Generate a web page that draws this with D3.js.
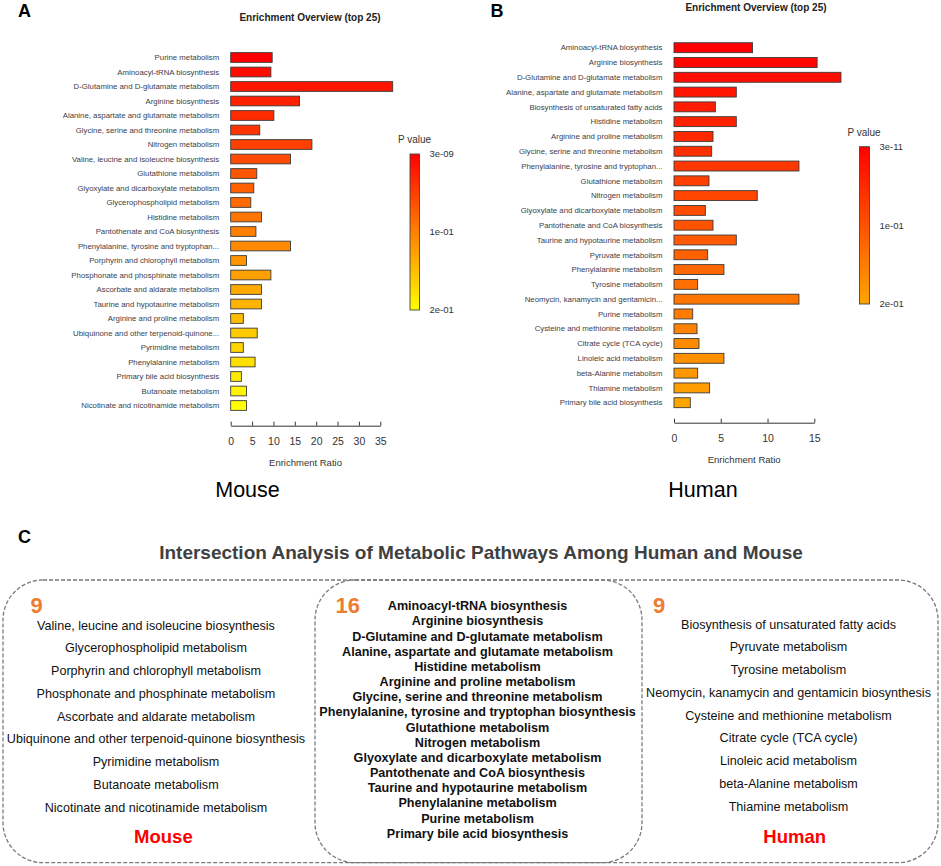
<!DOCTYPE html>
<html>
<head>
<meta charset="utf-8">
<script src="https://d3js.org/d3.v7.min.js"></script>
<style>
  body { margin: 0; background: #fff; }
  svg text { font-family: "Liberation Sans", Arial, sans-serif; }
</style>
</head>
<body>
<svg id="fig" width="941" height="866"></svg>
<script>
// ---- panel A : mouse, top 25 pathways (sorted by p value) ----
var mouseNames = [
  "Purine metabolism", "Aminoacyl-tRNA biosynthesis", "D-Glutamine and D-glutamate metabolism",
  "Arginine biosynthesis", "Alanine, aspartate and glutamate metabolism",
  "Glycine, serine and threonine metabolism", "Nitrogen metabolism",
  "Valine, leucine and isoleucine biosynthesis", "Glutathione metabolism",
  "Glyoxylate and dicarboxylate metabolism", "Glycerophospholipid metabolism",
  "Histidine metabolism", "Pantothenate and CoA biosynthesis",
  "Phenylalanine, tyrosine and tryptophan...", "Porphyrin and chlorophyll metabolism",
  "Phosphonate and phosphinate metabolism", "Ascorbate and aldarate metabolism",
  "Taurine and hypotaurine metabolism", "Arginine and proline metabolism",
  "Ubiquinone and other terpenoid-quinone...", "Pyrimidine metabolism",
  "Phenylalanine metabolism", "Primary bile acid biosynthesis",
  "Butanoate metabolism", "Nicotinate and nicotinamide metabolism"
];
var mouseRatio = [9.7, 9.4, 37.9, 16.1, 10.1, 6.8, 19.0, 14.0, 6.1, 5.4, 4.7, 7.2, 5.9,
                  14.0, 3.7, 9.4, 7.2, 7.2, 2.95, 6.2, 2.95, 5.7, 2.5, 3.7, 3.7];
var mouseTicks = [0, 5, 10, 15, 20, 25, 30, 35];
var mousePLabels = ["3e-09", "1e-01", "2e-01"];

// ---- panel B : human ----
var humanNames = [
  "Aminoacyl-tRNA biosynthesis", "Arginine biosynthesis", "D-Glutamine and D-glutamate metabolism",
  "Alanine, aspartate and glutamate metabolism", "Biosynthesis of unsaturated fatty acids",
  "Histidine metabolism", "Arginine and proline metabolism",
  "Glycine, serine and threonine metabolism", "Phenylalanine, tyrosine and tryptophan...",
  "Glutathione metabolism", "Nitrogen metabolism", "Glyoxylate and dicarboxylate metabolism",
  "Pantothenate and CoA biosynthesis", "Taurine and hypotaurine metabolism",
  "Pyruvate metabolism", "Phenylalanine metabolism", "Tyrosine metabolism",
  "Neomycin, kanamycin and gentamicin...", "Purine metabolism",
  "Cysteine and methionine metabolism", "Citrate cycle (TCA cycle)",
  "Linoleic acid metabolism", "beta-Alanine metabolism", "Thiamine metabolism",
  "Primary bile acid biosynthesis"
];
var humanRatio = [8.4, 15.3, 17.85, 6.66, 4.42, 6.66, 4.17, 4.03, 13.36, 3.74, 8.9, 3.35, 4.17,
                  6.66, 3.6, 5.34, 2.53, 13.36, 2.0, 2.46, 2.67, 5.34, 2.53, 3.81, 1.74];
var humanTicks = [0, 5, 10, 15];
var humanPLabels = ["3e-11", "1e-01", "2e-01"];

// ---- panel C : intersection ----
var mouseOnly = [
  "Valine, leucine and isoleucine biosynthesis", "Glycerophospholipid metabolism",
  "Porphyrin and chlorophyll metabolism", "Phosphonate and phosphinate metabolism",
  "Ascorbate and aldarate metabolism", "Ubiquinone and other terpenoid-quinone biosynthesis",
  "Pyrimidine metabolism", "Butanoate metabolism", "Nicotinate and nicotinamide metabolism"
];
var shared = [
  "Aminoacyl-tRNA biosynthesis", "Arginine biosynthesis", "D-Glutamine and D-glutamate metabolism",
  "Alanine, aspartate and glutamate metabolism", "Histidine metabolism",
  "Arginine and proline metabolism", "Glycine, serine and threonine metabolism",
  "Phenylalanine, tyrosine and tryptophan biosynthesis", "Glutathione metabolism",
  "Nitrogen metabolism", "Glyoxylate and dicarboxylate metabolism",
  "Pantothenate and CoA biosynthesis", "Taurine and hypotaurine metabolism",
  "Phenylalanine metabolism", "Purine metabolism", "Primary bile acid biosynthesis"
];
var humanOnly = [
  "Biosynthesis of unsaturated fatty acids", "Pyruvate metabolism", "Tyrosine metabolism",
  "Neomycin, kanamycin and gentamicin biosynthesis", "Cysteine and methionine metabolism",
  "Citrate cycle (TCA cycle)", "Linoleic acid metabolism", "beta-Alanine metabolism",
  "Thiamine metabolism"
];

var svg = d3.select("#fig");
svg.append("rect").attr("width", 941).attr("height", 866).attr("fill", "#fff");
var defs = svg.append("defs");

function drawPanel(p) {
  var g = svg.append("g");
  var n = p.names.length;
  var x = d3.scaleLinear().domain([0, d3.max(p.ticks)]).range(p.xr);
  var y = d3.scaleBand().domain(p.names).range(p.yr).paddingInner(0.33).paddingOuter(0.165);
  // bars are ranked by p value, so colour follows the rank
  var col = d3.scaleLinear().domain([0, n - 1]).range(["#ff0000", p.endColor]);

  g.append("text").attr("x", p.letter[0]).attr("y", p.letter[1])
    .attr("font-size", 18).attr("font-weight", "bold").attr("fill", "#000").text(p.letterText);

  g.append("text").attr("x", p.title[0]).attr("y", p.title[1]).attr("text-anchor", "middle")
    .attr("font-size", 10).attr("font-weight", "bold").attr("fill", "#222")
    .text("Enrichment Overview (top 25)");

  g.selectAll("rect.bar").data(p.values).enter().append("rect")
    .attr("class", "bar")
    .attr("x", x(0))
    .attr("y", function (d, i) { return y(p.names[i]); })
    .attr("width", function (d) { return x(d) - x(0); })
    .attr("height", y.bandwidth())
    .attr("fill", function (d, i) { return col(i); })
    .attr("stroke", "#3a3a3a").attr("stroke-width", 0.9);

  g.selectAll("text.lab").data(p.names).enter().append("text")
    .attr("class", "lab")
    .attr("x", x(0) - 11.5)
    .attr("y", function (d) { return y(d) + y.bandwidth() / 2; })
    .attr("dy", "0.35em")
    .attr("text-anchor", "end")
    .attr("font-size", 7.8).attr("fill", "#404048")
    .text(function (d) { return d; });

  var ax = g.append("g").attr("transform", "translate(0," + p.axisY + ")")
    .call(d3.axisBottom(x).tickValues(p.ticks).tickSizeInner(-4).tickSizeOuter(0).tickPadding(12));
  ax.attr("font-family", null);
  ax.select(".domain").attr("stroke", "#333");
  ax.selectAll(".tick line").attr("stroke", "#333");
  ax.selectAll(".tick text").attr("font-size", 10.5).attr("fill", "#333");

  g.append("text").attr("x", (p.xr[0] + p.xr[1]) / 2).attr("y", p.axisY + 40)
    .attr("text-anchor", "middle").attr("font-size", 9.5).attr("fill", "#333")
    .text("Enrichment Ratio");

  g.append("text").attr("x", p.species[0]).attr("y", p.species[1]).attr("text-anchor", "middle")
    .attr("font-size", 21.5).attr("fill", "#000").text(p.speciesText);

  // colour key
  var gid = "grad" + p.letterText;
  var grad = defs.append("linearGradient").attr("id", gid)
    .attr("x1", 0).attr("y1", 0).attr("x2", 0).attr("y2", 1);
  grad.append("stop").attr("offset", "0%").attr("stop-color", col(0));
  grad.append("stop").attr("offset", "100%").attr("stop-color", col(n - 1));

  var L = p.legend;
  g.append("text").attr("x", L.x - 12).attr("y", L.y - 11)
    .attr("font-size", 10).attr("fill", "#333").text("P value");
  g.append("rect").attr("x", L.x).attr("y", L.y).attr("width", L.w).attr("height", L.h)
    .attr("fill", "url(#" + gid + ")").attr("stroke", "#444").attr("stroke-width", 0.9);
  var ly = d3.scalePoint().domain(p.pLabels).range([L.y, L.y + L.h]);
  g.selectAll("text.pl").data(p.pLabels).enter().append("text")
    .attr("class", "pl")
    .attr("x", L.x + L.w + 10).attr("y", function (d) { return ly(d); })
    .attr("dy", "0.35em").attr("font-size", 9.5).attr("fill", "#333")
    .text(function (d) { return d; });
}

drawPanel({
  letterText: "A", letter: [18, 17.3], title: [310, 20.5],
  names: mouseNames, values: mouseRatio, ticks: mouseTicks, pLabels: mousePLabels,
  xr: [230.7, 380.3], yr: [50.25, 412.75], axisY: 425.7, endColor: "#ffff00",
  legend: { x: 410, y: 154, w: 9.5, h: 156 },
  speciesText: "Mouse", species: [247.5, 496.5]
});

drawPanel({
  letterText: "B", letter: [490.5, 17.3], title: [756, 10.5],
  names: humanNames, values: humanRatio, ticks: humanTicks, pLabels: humanPLabels,
  xr: [674, 814.3], yr: [40.3, 410.1], axisY: 422.7, endColor: "#ffa500",
  legend: { x: 859.5, y: 146.7, w: 10, h: 157.3 },
  speciesText: "Human", species: [703, 496.5]
});

// ---- panel C ----
var c = svg.append("g");
c.append("text").attr("x", 18).attr("y", 543.3).attr("font-size", 18)
  .attr("font-weight", "bold").text("C");
c.append("text").attr("x", 481).attr("y", 559).attr("text-anchor", "middle")
  .attr("font-size", 19).attr("font-weight", "bold").attr("fill", "#404040")
  .text("Intersection Analysis of Metabolic Pathways Among Human and Mouse");

[[3, 642], [315, 938]].forEach(function (b) {
  c.append("rect").attr("x", b[0]).attr("y", 580).attr("width", b[1] - b[0]).attr("height", 282.7)
    .attr("rx", 40).attr("ry", 40)
    .attr("fill", "none").attr("stroke", "#7a7a7a").attr("stroke-width", 1.3)
    .attr("stroke-dasharray", "4,2");
});

var groups = [
  { items: mouseOnly, cx: 156, yr: [625, 807.3], bold: false, numX: 36.5 },
  { items: shared, cx: 477.5, yr: [605.7, 833.3], bold: true, numX: 347.7 },
  { items: humanOnly, cx: 788.5, yr: [624, 806], bold: false, numX: 659.2 }
];
groups.forEach(function (gr) {
  var sy = d3.scalePoint().domain(gr.items).range(gr.yr);
  c.append("text").attr("x", gr.numX).attr("y", 613.3).attr("text-anchor", "middle")
    .attr("font-size", 22).attr("font-weight", "bold").attr("fill", "#ed7d31")
    .text(gr.items.length);
  c.selectAll(null).data(gr.items).enter().append("text")
    .attr("x", gr.cx).attr("y", function (d) { return sy(d); }).attr("dy", "0.36em")
    .attr("text-anchor", "middle").attr("font-size", 12.6)
    .attr("font-weight", gr.bold ? "bold" : "normal").attr("fill", "#111")
    .text(function (d) { return d; });
});

c.append("text").attr("x", 163.4).attr("y", 843.3).attr("text-anchor", "middle")
  .attr("font-size", 18.5).attr("font-weight", "bold").attr("fill", "#ff0000").text("Mouse");
c.append("text").attr("x", 794.7).attr("y", 843.3).attr("text-anchor", "middle")
  .attr("font-size", 18.5).attr("font-weight", "bold").attr("fill", "#ff0000").text("Human");
</script>
</body>
</html>
